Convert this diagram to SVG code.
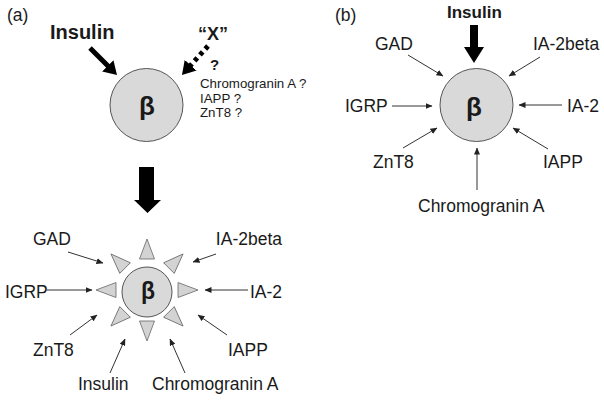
<svg xmlns="http://www.w3.org/2000/svg" width="604" height="406" viewBox="0 0 604 406">
<style>
text{font-family:"Liberation Sans",Arial,sans-serif;fill:#1a1a1a}
.lbl{font-size:17.5px}
.sm{font-size:13.3px}
.bold{font-weight:bold}
.cell{fill:#d9d9d9;stroke:#555;stroke-width:1}
.tri{fill:#d3d3d3;stroke:#666;stroke-width:0.8}
.thin{stroke:#333;stroke-width:1;fill:none;marker-end:url(#ah)}
.fat{stroke:#000;fill:none}
</style>
<defs>
<marker id="ah" markerUnits="userSpaceOnUse" markerWidth="7" markerHeight="6" refX="6.5" refY="3" orient="auto"><path d="M0,0 L7,3 L0,6 z" fill="#222"/></marker>
<marker id="bh" markerUnits="userSpaceOnUse" markerWidth="13" markerHeight="16" refX="1" refY="8" orient="auto"><path d="M0,0 L13,8 L0,16 z" fill="#000"/></marker>
<marker id="bh2" markerUnits="userSpaceOnUse" markerWidth="16" markerHeight="20" refX="1" refY="10" orient="auto"><path d="M0,0 L16,10 L0,20 z" fill="#000"/></marker>
<polygon id="spike" points="-7.5,-31 7.5,-31 0,-51"/>
</defs>

<text x="7" y="21" class="lbl">(a)</text>
<text x="335" y="21" class="lbl">(b)</text>

<!-- Panel a top -->
<g id="a-insulin"><text x="50" y="39" font-size="20" class="bold">Insulin</text></g>
<g id="a-x"><text x="198" y="40" font-size="18" class="bold">“X”</text>
<text x="210" y="70" font-size="15" class="bold">?</text>
<text x="200" y="88" class="sm">Chromogranin A ?</text>
<text x="200" y="103" class="sm">IAPP ?</text>
<text x="200" y="117" class="sm">ZnT8 ?</text></g>
<g id="a-beta-top"><circle cx="146.5" cy="105" r="36.5" class="cell"/>
<text x="147" y="115" font-size="26" class="bold" text-anchor="middle">β</text></g>

<!-- Panel a bottom -->
<g id="a-beta-bottom">
<g class="tri" transform="translate(147,290)">
<use href="#spike"/><use href="#spike" transform="rotate(45)"/><use href="#spike" transform="rotate(90)"/><use href="#spike" transform="rotate(135)"/>
<use href="#spike" transform="rotate(180)"/><use href="#spike" transform="rotate(225)"/><use href="#spike" transform="rotate(270)"/><use href="#spike" transform="rotate(315)"/>
</g>
<circle cx="147" cy="292" r="25" class="cell"/>
<text x="148" y="299" font-size="23" class="bold" text-anchor="middle">β</text></g>
<g id="a-gad"><text x="33" y="245" class="lbl">GAD</text></g>
<g id="a-ia2beta"><text x="282" y="245" class="lbl" text-anchor="end">IA-2beta</text></g>
<g id="a-igrp"><text x="5" y="298" class="lbl">IGRP</text></g>
<g id="a-ia2"><text x="282" y="298" class="lbl" text-anchor="end">IA-2</text></g>
<g id="a-znt8"><text x="33" y="356" class="lbl">ZnT8</text></g>
<g id="a-iapp"><text x="228" y="356" class="lbl">IAPP</text></g>
<g id="a-insulin2"><text x="78" y="390" class="lbl">Insulin</text></g>
<g id="a-chga"><text x="152" y="390" class="lbl">Chromogranin A</text></g>

<!-- Panel b -->
<g id="b-insulin"><text x="447" y="18" font-size="17" class="bold">Insulin</text></g>
<g id="b-beta"><circle cx="476.5" cy="105" r="36.5" class="cell"/>
<text x="474" y="116" font-size="26" class="bold" text-anchor="middle">β</text></g>
<g id="b-gad"><text x="375" y="50" class="lbl">GAD</text></g>
<g id="b-ia2beta"><text x="533" y="50" class="lbl">IA-2beta</text></g>
<g id="b-igrp"><text x="345" y="112" class="lbl">IGRP</text></g>
<g id="b-ia2"><text x="567" y="112" class="lbl">IA-2</text></g>
<g id="b-znt8"><text x="373" y="168" class="lbl">ZnT8</text></g>
<g id="b-iapp"><text x="543" y="168" class="lbl">IAPP</text></g>
<g id="b-chga"><text x="418" y="212" class="lbl">Chromogranin A</text></g>

<g id="connectors">
<!-- a top -->
<line x1="90" y1="48" x2="108.5" y2="66.5" class="fat" stroke-width="5" marker-end="url(#bh)"/>
<line x1="208" y1="46" x2="190" y2="66" class="fat" stroke-width="5" stroke-dasharray="4 4" marker-end="url(#bh)"/>
<polygon points="139,167 154,167 154,200 161,200 147.5,213 134,200 139,200" fill="#000"/>
<!-- a bottom -->
<line x1="68" y1="252" x2="103" y2="263" class="thin"/>
<line x1="216" y1="254" x2="193" y2="262" class="thin"/>
<line x1="47" y1="290" x2="92" y2="290" class="thin"/>
<line x1="248" y1="290" x2="205" y2="290" class="thin"/>
<line x1="70" y1="335" x2="97" y2="315" class="thin"/>
<line x1="227" y1="335" x2="198" y2="315" class="thin"/>
<line x1="110" y1="373" x2="125" y2="339" class="thin"/>
<line x1="185" y1="373" x2="170" y2="339" class="thin"/>
<!-- b -->
<line x1="474" y1="25" x2="474" y2="48" class="fat" stroke-width="8" marker-end="url(#bh2)"/>
<line x1="408" y1="55" x2="443" y2="76" class="thin"/>
<line x1="540" y1="57" x2="509" y2="76" class="thin"/>
<line x1="392" y1="106" x2="432" y2="106" class="thin"/>
<line x1="562" y1="105" x2="519" y2="105" class="thin"/>
<line x1="403" y1="148" x2="437" y2="128" class="thin"/>
<line x1="548" y1="149" x2="513" y2="128" class="thin"/>
<line x1="477" y1="190" x2="477" y2="148" class="thin"/>
</g>
</svg>
